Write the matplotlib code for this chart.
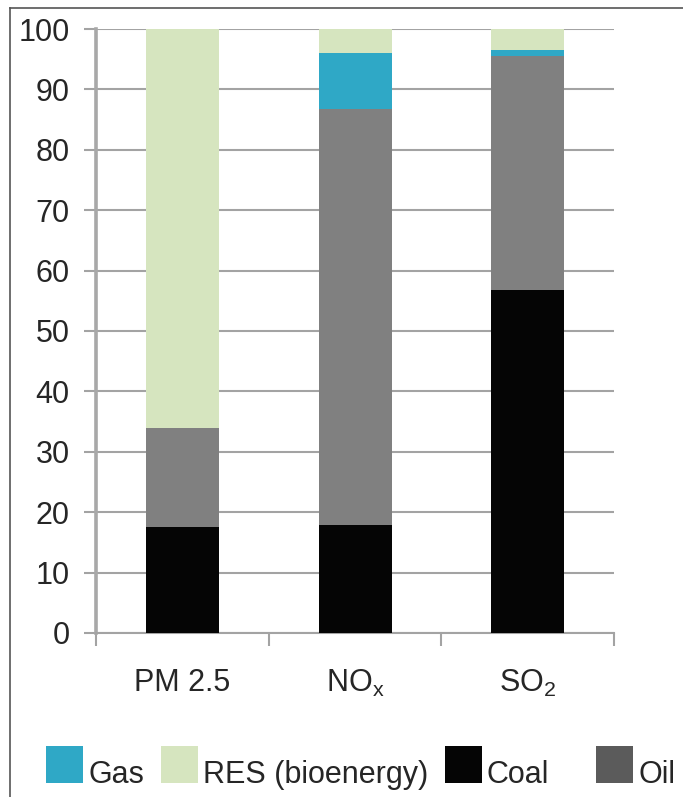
import matplotlib
matplotlib.use("Agg")
import matplotlib.pyplot as plt
from matplotlib import font_manager
from matplotlib.patches import Rectangle
from matplotlib.lines import Line2D
import numpy as np

plt.rcParams['font.family'] = ['Liberation Sans', 'DejaVu Sans']
plt.rcParams['mathtext.fontset'] = 'custom'
plt.rcParams['mathtext.rm'] = 'Liberation Sans'
plt.rcParams['mathtext.it'] = 'Liberation Sans'

# data (share of emissions, %)
categorias = ["PM 2.5", "NO$_\\mathregular{x}$", "SO$_\\mathregular{2}$"]
coal = [17.5, 17.8, 56.8]
oil = [16.5, 69.0, 38.8]
gas = [0.0, 9.3, 0.9]
res = [66.0, 3.9, 3.5]

# legend order as in the original
leyenda = ["Gas", "RES (bioenergy)", "Coal", "Oil"]
col_gas = '#2fa8c6'
col_res = '#d6e5bf'
col_coal = '#050505'
col_oil = '#808080'
col_oil_ley = '#5b5b5b'

# the legend text in the original is narrower/taller
nombres = [f.name for f in font_manager.fontManager.ttflist]
if 'Liberation Sans Narrow' in nombres:
    fuente_ley = 'Liberation Sans Narrow'
    tam_ley = 26
else:
    fuente_ley = 'Liberation Sans'
    tam_ley = 22

fig = plt.figure(figsize=(6.83, 7.97), dpi=100)
ax = fig.add_axes([0.1406, 0.2058, 0.899 - 0.1406, 0.9636 - 0.2058])

x = np.arange(len(categorias))
w = 0.423
b1 = np.array(coal)
b2 = b1 + np.array(oil)
b3 = b2 + np.array(gas)
ax.bar(x, coal, w, color=col_coal, zorder=3)
ax.bar(x, oil, w, bottom=b1, color=col_oil, zorder=3)
ax.bar(x, gas, w, bottom=b2, color=col_gas, zorder=3)
ax.bar(x, res, w, bottom=b3, color=col_res, zorder=3)

ax.set_xlim(-0.5, 2.5)
ax.set_ylim(0, 100)
ax.set_yticks(range(0, 101, 10))
ax.yaxis.grid(True, color='#a3a3a3', linewidth=1.5, zorder=0)
ax.set_axisbelow(True)

for s in ['top', 'right']:
    ax.spines[s].set_visible(False)
ax.spines['left'].set_color('#a8a8a8')
ax.spines['left'].set_linewidth(2.6)
ax.spines['bottom'].set_color('#a3a3a3')
ax.spines['bottom'].set_linewidth(1.5)

ax.tick_params(axis='y', length=9, width=1.5, color='#a3a3a3', pad=10,
               labelsize=22, labelcolor='#262626')
ax.set_xticks(x)
ax.set_xticklabels(categorias)
ax.tick_params(axis='x', which='major', length=0, pad=25, labelsize=22,
               labelcolor='#262626')
ax.set_xticks([-0.5, 0.5, 1.5, 2.5], minor=True)
ax.tick_params(axis='x', which='minor', length=9, width=1.5, color='#a3a3a3')

# frame around the figure (only left and top visible)
fig.add_artist(Line2D([10 / 683, 10 / 683], [0, 1 - 8 / 797], color='#555555', lw=1.2))
fig.add_artist(Line2D([10 / 683, 1], [1 - 8 / 797, 1 - 8 / 797], color='#555555', lw=1.2))

# legend drawn by hand to keep the original spacing
ley_cols = [col_gas, col_res, col_coal, col_oil_ley]
ley_x = [46, 161, 445, 596]
for nombre, c, px in zip(leyenda, ley_cols, ley_x):
    fig.add_artist(Rectangle((px / 683, 1 - 783 / 797), 37 / 683, 37 / 797,
                             facecolor=c, edgecolor='none'))
    fig.text((px + 42) / 683, 1 - 783 / 797, nombre, fontsize=tam_ley,
             family=fuente_ley, color='#262626', va='baseline', ha='left')

fig.savefig("out.png", dpi=100)
